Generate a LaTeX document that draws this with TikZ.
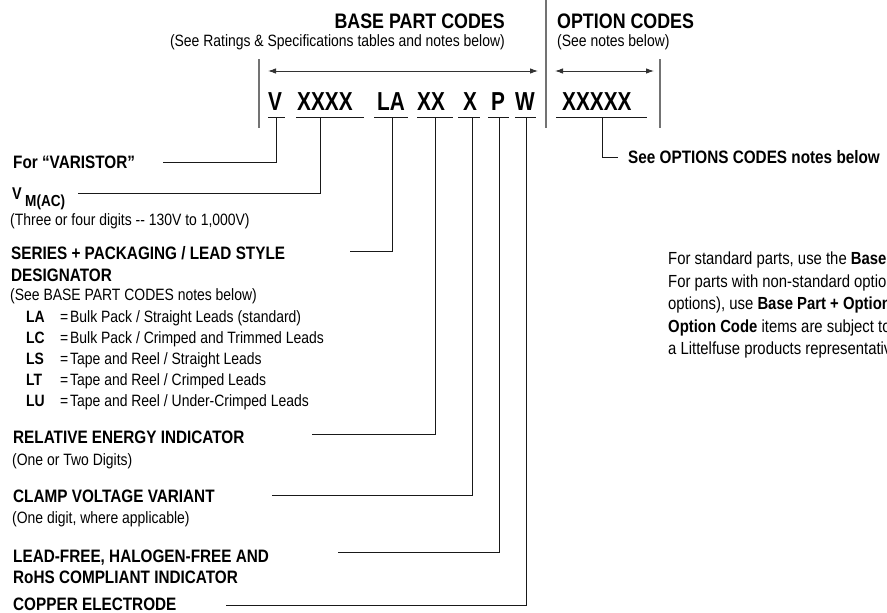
\documentclass[tikz,border=0pt]{standalone}
\usepackage{fontspec}
\setmainfont{Liberation Sans}[FakeStretch=0.85]
\newfontfamily\codefont{Liberation Sans}[FakeStretch=0.8]
\usetikzlibrary{arrows.meta}
\begin{document}
\begin{tikzpicture}[x=1pt, y=-1pt,
	lbl/.style = {anchor=base west, inner sep=0pt, font=\fontsize{18}{21}\selectfont\bfseries},
	sub/.style = {anchor=base west, inner sep=0pt, font=\fontsize{16.4}{21}\selectfont},
	hdr/.style = {inner sep=0pt, font=\fontsize{21}{24}\selectfont\bfseries},
	code/.style = {anchor=base west, inner sep=0pt, font=\codefont\fontsize{26}{30}\selectfont\bfseries},
	leader/.style = {black!90, line width=0.9pt},
	bar/.style = {black!55, line width=1.4pt},
	spanarrow/.style = {black!80, line width=0.9pt, {Latex[length=8pt,width=5.5pt]}-{Latex[length=8pt,width=5.5pt]}}]
	\path[use as bounding box, clip] (0,0) rectangle (887,613);

	% headings
	\node[hdr, anchor=base east] (base) at (505,28) {BASE PART CODES};
	\node[sub, anchor=base east] (basenote) at (505,46) {(See Ratings \& Specifications tables and notes below)};
	\node[hdr, anchor=base west] (opt) at (557,28) {OPTION CODES};
	\node[sub] (optnote) at (557,46) {(See notes below)};
	\draw[bar] (546,0) -- (546,128);
	\draw[bar] (259,59) -- (259,128);
	\draw[bar] (660,59) -- (660,128);
	\coordinate (al) at (268,71);
	\coordinate (ar) at (538,71);
	\coordinate (bl) at (555,71);
	\coordinate (br) at (654,71);
	\draw[spanarrow] (al) -- (ar);
	\draw[spanarrow] (bl) -- (br);

	% part number
	\node[code] (cV) at (268,110) {V};
	\node[code] (cVM) at (297,110) {XXXX};
	\node[code] (cLA) at (377,110) {LA};
	\node[code] (cXX) at (417,110) {XX};
	\node[code] (cX) at (463,110) {X};
	\node[code] (cP) at (491,110) {P};
	\node[code] (cW) at (515,110) {W};
	\node[code] (cOpt) at (562,110) {XXXXX};
	\draw[leader] (268,117) -- (285,117);
	\draw[leader] (296,117) -- (364,117);
	\draw[leader] (374,117) -- (408,117);
	\draw[leader] (417,117) -- (453,117);
	\draw[leader] (458,117) -- (480,117);
	\draw[leader] (488,117) -- (509,117);
	\draw[leader] (515,117) -- (536,117);
	\draw[leader] (556,117) -- (647,117);
	\coordinate (tV) at (276,117);
	\coordinate (tVM) at (320,117);
	\coordinate (tLA) at (392,117);
	\coordinate (tXX) at (435,117);
	\coordinate (tX) at (472,117);
	\coordinate (tP) at (499,117);
	\coordinate (tW) at (526,117);
	\coordinate (tOpt) at (602,117);

	% labels
	\node[lbl] (var) at (13,168) {For “VARISTOR”};
	\node[lbl, font=\fontsize{17}{20}\selectfont\bfseries] (vm) at (12,199) {V};
	\node[lbl, font=\fontsize{16}{19}\selectfont\bfseries] (vmsub) at (25,206) {M(AC)};
	\node[sub] (vmnote) at (10,225) {(Three or four digits -{}- 130V to 1,000V)};
	\node[lbl] (ser) at (11,259) {SERIES + PACKAGING / LEAD STYLE};
	\node[lbl] (ser2) at (11,281) {DESIGNATOR};
	\node[sub] (sernote) at (10,300) {(See BASE PART CODES notes below)};
	\foreach \k/\t [count=\i] in {A/{Bulk Pack / Straight Leads (standard)},
			C/{Bulk Pack / Crimped and Trimmed Leads},
			S/{Tape and Reel / Straight Leads},
			T/{Tape and Reel / Crimped Leads},
			U/{Tape and Reel / Under-Crimped Leads}} {
		\node[sub, font=\fontsize{16.4}{21}\selectfont\bfseries] (k\i) at (26,301+21*\i) {L\k};
		\node[sub] (e\i) at (60,301+21*\i) {=};
		\node[sub] (d\i) at (70,301+21*\i) {\t};
	}
	\node[lbl] (rel) at (13,443) {RELATIVE ENERGY INDICATOR};
	\node[sub] (relnote) at (12,465) {(One or Two Digits)};
	\node[lbl] (clamp) at (13,502) {CLAMP VOLTAGE VARIANT};
	\node[sub] (clampnote) at (12,523) {(One digit, where applicable)};
	\node[lbl] (lf) at (13,562) {LEAD-FREE, HALOGEN-FREE AND};
	\node[lbl] (lf2) at (13,583) {RoHS COMPLIANT INDICATOR};
	\node[lbl] (cu) at (13,610) {COPPER ELECTRODE};
	\node[lbl] (optsee) at (628,163) {See OPTIONS CODES notes below};

	% leaders
	\coordinate (sVar) at (163,162);
	\coordinate (sVM) at (78,193);
	\coordinate (sSer) at (350,251);
	\coordinate (sRel) at (312,434);
	\coordinate (sClamp) at (272,495);
	\coordinate (sLf) at (338,552);
	\coordinate (sCu) at (226,605);
	\coordinate (sOpt) at (618,157);
	\draw[leader] (sVar) -| (tV);
	\draw[leader] (sVM) -| (tVM);
	\draw[leader] (sSer) -| (tLA);
	\draw[leader] (sRel) -| (tXX);
	\draw[leader] (sClamp) -| (tX);
	\draw[leader] (sLf) -| (tP);
	\draw[leader] (sCu) -| (tW);
	\draw[leader] (tOpt) |- (sOpt);

	% ordering note
	\node[anchor=north west, inner sep=0pt, align=left, font=\fontsize{17.5}{22.5}\selectfont] (order) at (668,252)
		{For standard parts, use the \textbf{Base Part}\\
		For parts with non-standard options\\
		options), use \textbf{Base Part + Option}\\
		\textbf{Option Code} items are subject to\\
		a Littelfuse products representative};
\end{tikzpicture}
\end{document}
